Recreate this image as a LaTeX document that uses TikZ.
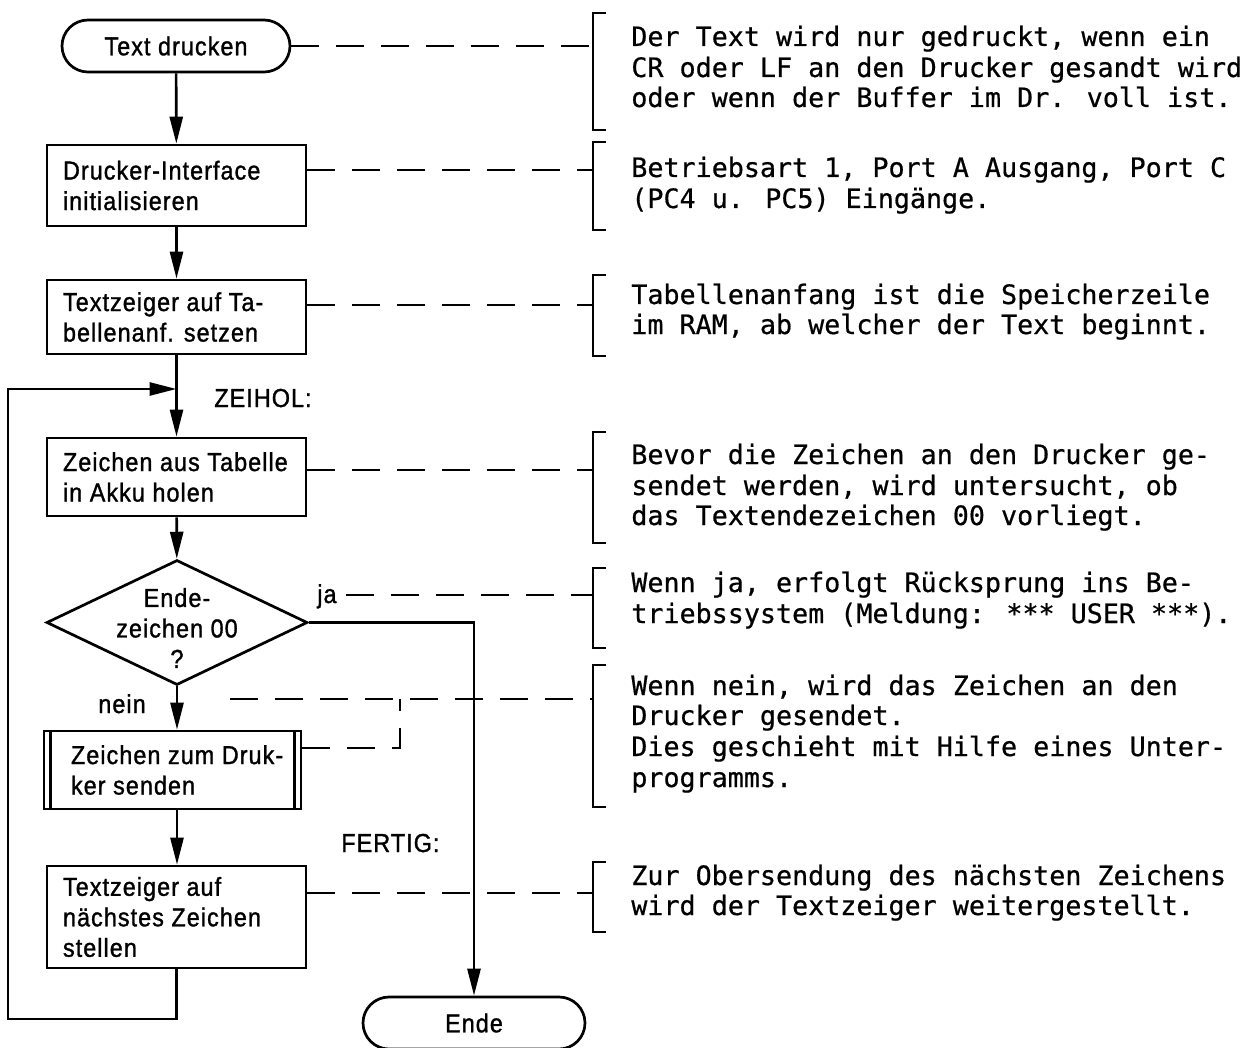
\documentclass[tikz,border=0pt]{standalone}
\usepackage{fontspec}
\setmainfont{Liberation Sans}[FakeStretch=0.9,LetterSpace=4,FakeBold=1.2]
\newfontfamily\monof{DejaVu Sans Mono}[FakeBold=0.6]
\usetikzlibrary{arrows.meta,shapes.geometric}
\begin{document}
\begin{tikzpicture}[x=1pt,y=-1pt, line width=2.7pt,
  every node/.style={font=\fontsize{26}{30.5}\selectfont},
  proc/.style={draw, rectangle, minimum width=259pt, inner sep=0pt},
  btext/.style={anchor=west, align=left, inner sep=0pt},
  term/.style={draw, rounded corners=26pt, minimum height=52pt, inner sep=0pt},
  flow/.style={-{Triangle[length=27pt,width=13pt]}},
  note/.style={dash pattern=on 28pt off 17pt, line width=2.5pt},
  brk/.style={line width=2.5pt},
  rtext/.style={anchor=base west, inner sep=0pt, font=\monof\fontsize{26.7}{30.5}\selectfont},
  lab/.style={anchor=base west, inner sep=0pt}]
\fill[white] (0,0) rectangle (1246,1048);
\useasboundingbox (0,0) rectangle (1246,1048);

% flow nodes
\node[term, minimum width=228pt] (start) at (176,46) {Text drucken};
\node[proc, minimum height=81pt] (init) at (176.5,185.5) {};
\node[btext] (initT) at ([xshift=16pt]init.west) {Drucker-Interface\\initialisieren};
\node[proc, minimum height=74pt] (tz) at (176.5,317) {};
\node[btext] (tzT) at ([xshift=16pt]tz.west) {Textzeiger auf Ta-\\bellenanf. setzen};
\node[proc, minimum height=78pt] (hol) at (176.5,477) {};
\node[btext] (holT) at ([xshift=16pt]hol.west) {Zeichen aus Tabelle\\in Akku holen};
\node[diamond, draw, minimum width=261pt, minimum height=125pt, inner sep=0pt] (dec) at (177,622.5) {};
\node[align=center, inner sep=0pt] (dect) at (177,628) {Ende-\\zeichen 00\\?};
\node[proc, minimum width=257pt, minimum height=78pt] (send) at (172.5,770) {};
\node[btext] (sendT) at ([xshift=27pt]send.west) {Zeichen zum Druk-\\ker senden};
\draw ([xshift=8pt]send.north west) -- ([xshift=8pt]send.south west);
\draw ([xshift=-8pt]send.north east) -- ([xshift=-8pt]send.south east);
\node[proc, minimum height=102pt] (next) at (176.5,917) {};
\node[btext] (nextT) at ([xshift=16pt]next.west) {Textzeiger auf\\nächstes Zeichen\\stellen};
\node[term, minimum width=222pt] (end) at (474,1023) {Ende};

% labels
\node[lab] (zeihol) at (213,407) {ZEIHOL:};
\node[lab] (ja) at (316,603) {ja};
\node[lab] (nein) at (97,713) {nein};
\node[lab] (fertig) at (340,852) {FERTIG:};

% connectors
\draw[flow] (start) -- (init);
\draw[flow] (init) -- (tz);
\draw[flow] (tz) -- (hol);
\draw[flow] (hol) -- (dec);
\draw[flow] (dec.south) -- (dec.south |- send.north);
\draw[flow] (send.south -| dec.south) -- (next.north -| dec.south);
\draw[flow] (dec.east) -| (end.north);
\coordinate (lb) at (8,1019);
\coordinate (lt) at (8,389);
\draw[flow] (next.south) -- (next.south |- lb) -- (lb) -- (lt) -- (lt -| tz.south);

% brackets
\draw[brk] (606,13) -- (593,13) -- (593,130) -- (606,130);
\draw[brk] (606,142) -- (593,142) -- (593,230) -- (606,230);
\draw[brk] (606,275) -- (593,275) -- (593,356) -- (606,356);
\draw[brk] (606,432) -- (593,432) -- (593,543) -- (606,543);
\draw[brk] (606,568) -- (593,568) -- (593,648) -- (606,648);
\draw[brk] (606,665) -- (593,665) -- (593,807) -- (606,807);
\draw[brk] (606,862) -- (593,862) -- (593,932) -- (606,932);

% dashed annotation links
\coordinate (j1) at (593,46);
\coordinate (j2) at (593,170);
\coordinate (j3) at (593,305);
\coordinate (j4) at (593,470);
\coordinate (j5) at (593,595);
\coordinate (j5s) at (346,595);
\coordinate (j6) at (593,699);
\coordinate (j6s) at (230,699);
\coordinate (k) at (400,748);
\coordinate (j7) at (593,893);
\draw[note] (start.east) -- (j1);
\draw[note] (j2 -| init.east) -- (j2);
\draw[note] (j3 -| tz.east) -- (j3);
\draw[note] (j4 -| hol.east) -- (j4);
\draw[note] (j5s) -- (j5);
\draw[note] (j6s) -- (j6);
\draw[note] (k -| send.east) -- (k) -- (k |- j6);
\draw[note] (j7 -| next.east) -- (j7);

% right texts
\node[rtext] (t11) at (630,46) {Der Text wird nur gedruckt, wenn ein};
\node[rtext] (t12) at (630,77) {CR oder LF an den Drucker gesandt wird};
\node[rtext] (t13) at (630,107) {oder wenn der Buffer im Dr. voll ist.};
\node[rtext] (t21) at (630,177) {Betriebsart 1, Port A Ausgang, Port C};
\node[rtext] (t22) at (630,208) {(PC4 u. PC5) Eingänge.};
\node[rtext] (t31) at (630,304) {Tabellenanfang ist die Speicherzeile};
\node[rtext] (t32) at (630,334) {im RAM, ab welcher der Text beginnt.};
\node[rtext] (t41) at (630,464) {Bevor die Zeichen an den Drucker ge-};
\node[rtext] (t42) at (630,495) {sendet werden, wird untersucht, ob};
\node[rtext] (t43) at (630,525) {das Textendezeichen 00 vorliegt.};
\node[rtext] (t51) at (630,592) {Wenn ja, erfolgt Rücksprung ins Be-};
\node[rtext] (t52) at (630,623) {triebssystem (Meldung: *** USER ***).};
\node[rtext] (t61) at (630,695) {Wenn nein, wird das Zeichen an den};
\node[rtext] (t62) at (630,725) {Drucker gesendet.};
\node[rtext] (t63) at (630,756) {Dies geschieht mit Hilfe eines Unter-};
\node[rtext] (t64) at (630,787) {programms.};
\node[rtext] (t71) at (630,885) {Zur Obersendung des nächsten Zeichens};
\node[rtext] (t72) at (630,915) {wird der Textzeiger weitergestellt.};
\end{tikzpicture}
\end{document}
